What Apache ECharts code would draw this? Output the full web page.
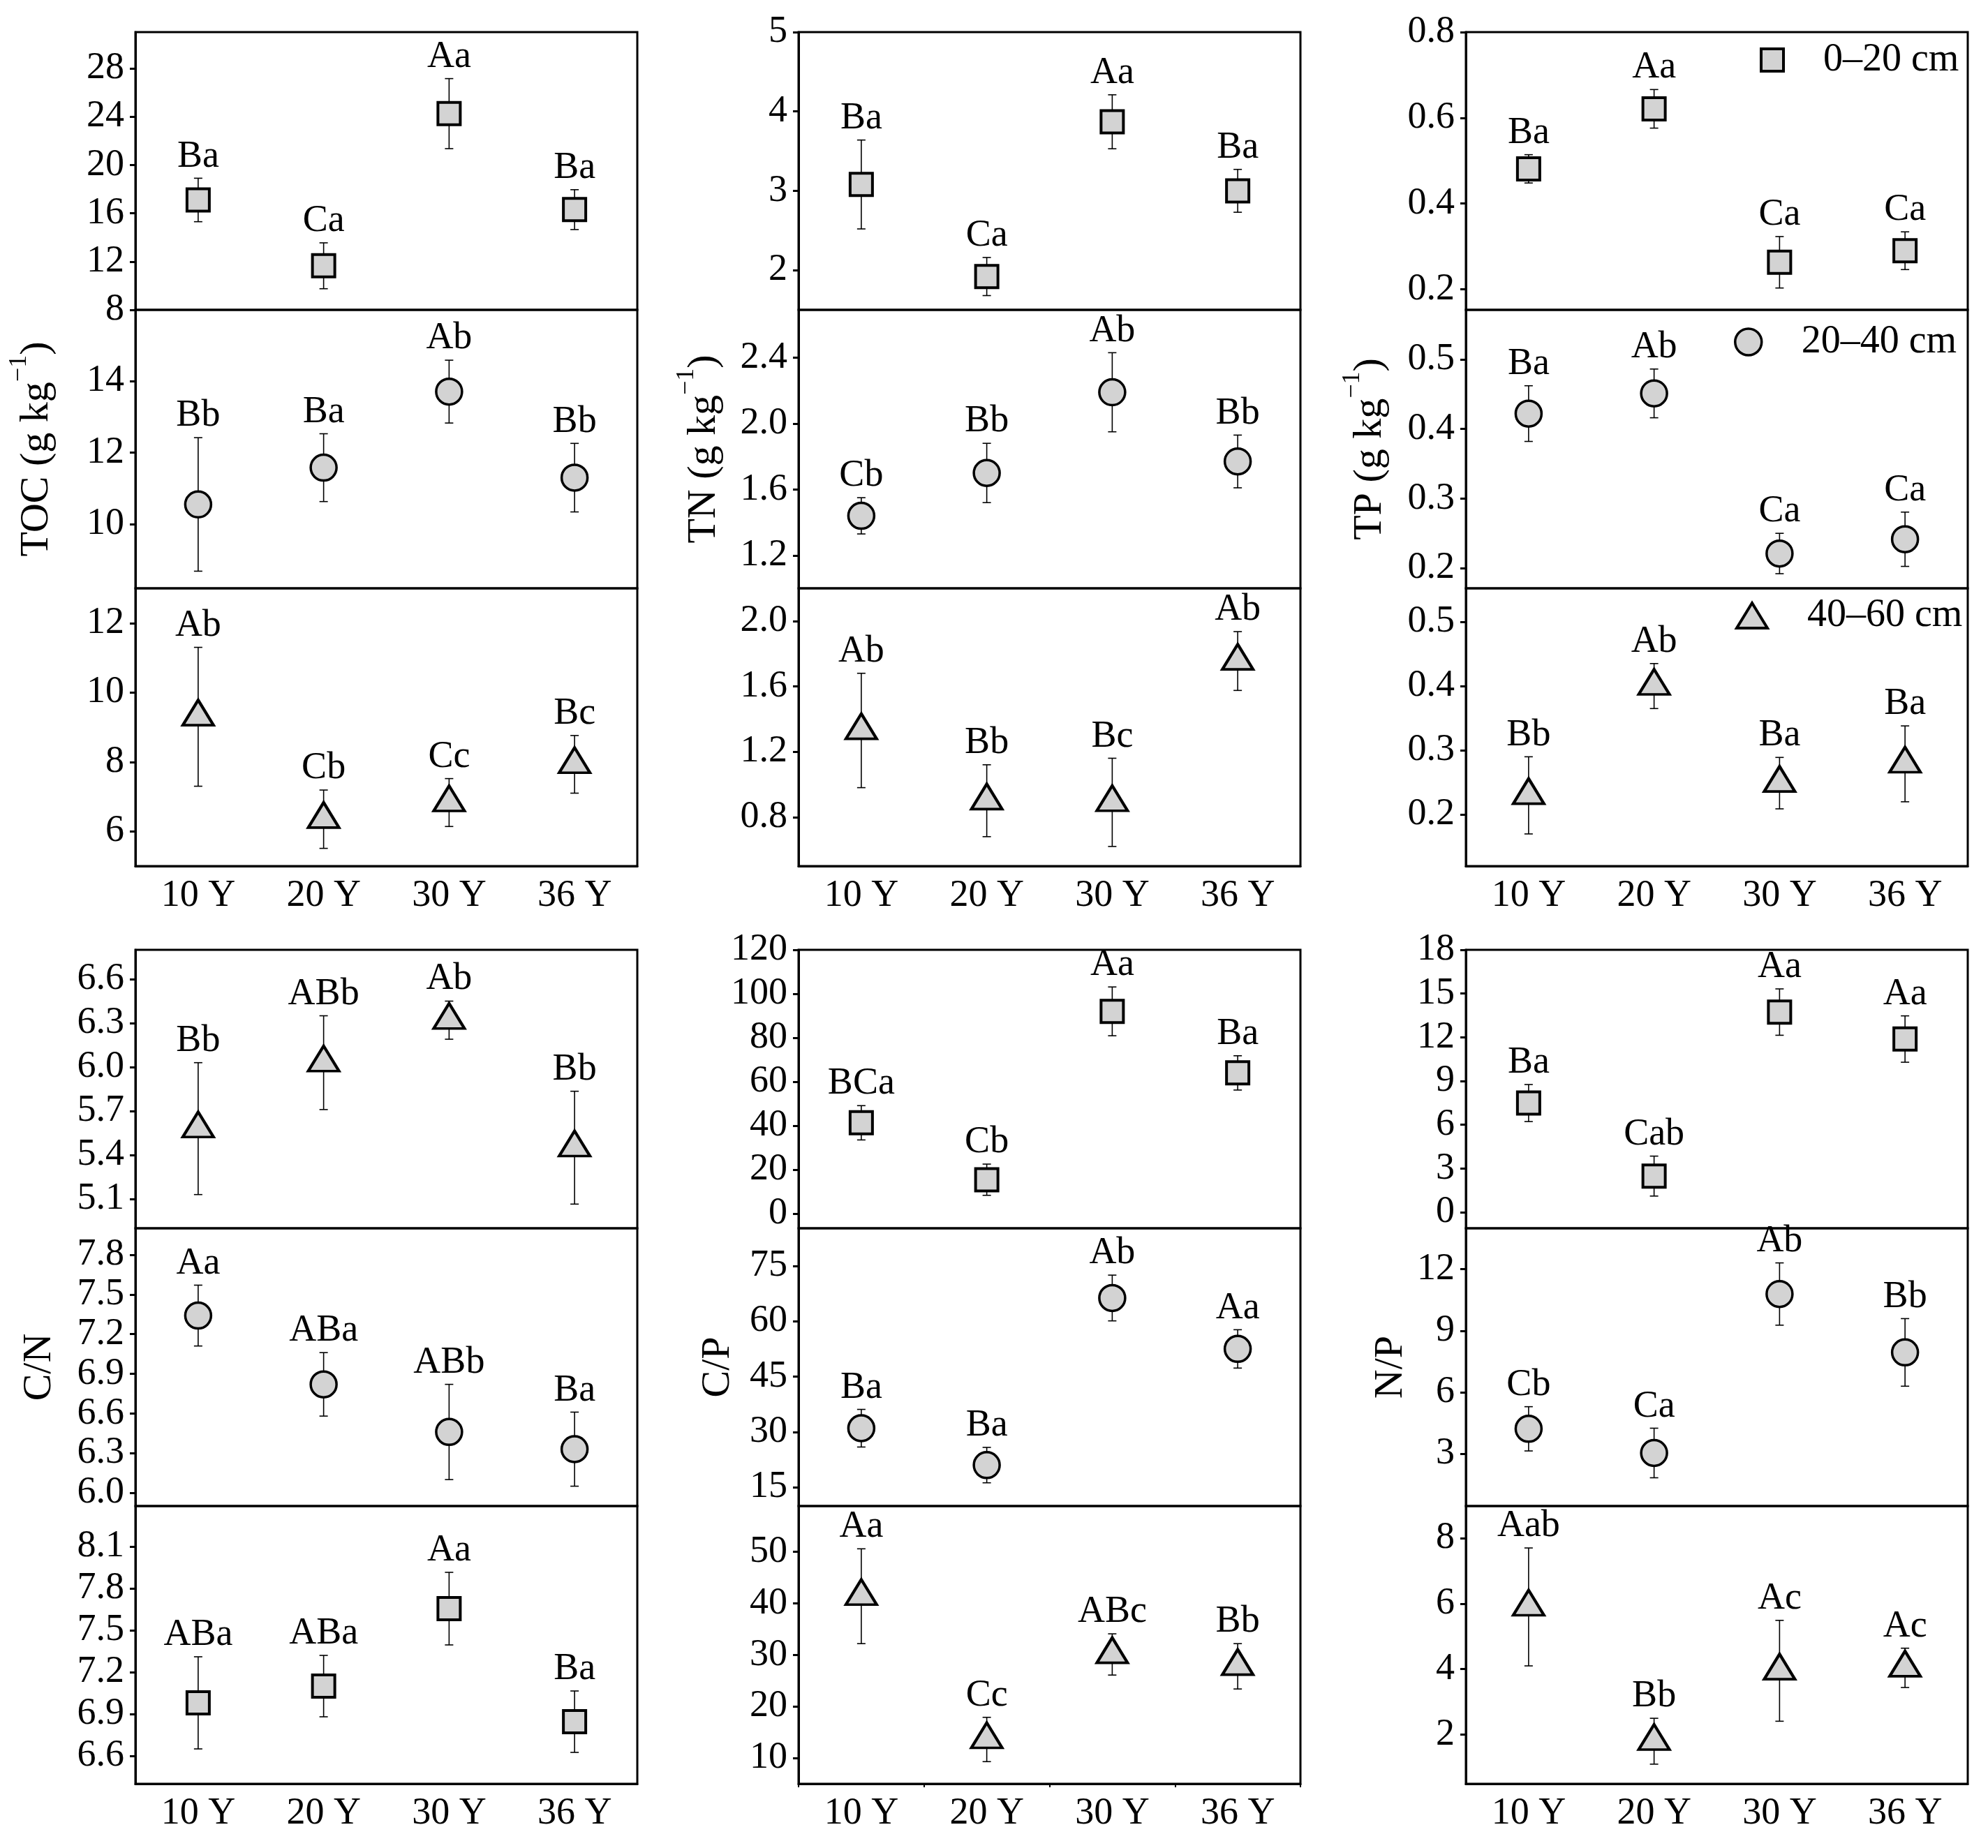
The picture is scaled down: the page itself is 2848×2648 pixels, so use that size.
<!DOCTYPE html>
<html>
<head>
<meta charset="utf-8">
<title>Soil nutrients by stand age</title>
<script src="https://cdn.jsdelivr.net/npm/echarts@6/dist/echarts.min.js"></script>
<style>
  html, body { margin: 0; padding: 0; background: #fff; }
  #chart { width: 2848px; height: 2648px; }
</style>
</head>
<body>
<div id="chart"></div>
<script>
// categories
const years = ['10 Y', '20 Y', '30 Y', '36 Y'];

// TOC (g kg-1)
const toc1 = [17.1, 11.65, 24.25, 16.3], tocErr1 = [1.8, 1.9, 2.9, 1.65], tocSig1 = ['Ba', 'Ca', 'Aa', 'Ba'];
const toc2 = [10.55, 11.58, 13.71, 11.3], tocErr2 = [1.87, 0.95, 0.88, 0.96], tocSig2 = ['Bb', 'Ba', 'Ab', 'Bb'];
const toc3 = [9.3, 6.35, 6.83, 7.93], tocErr3 = [2.0, 0.84, 0.69, 0.83], tocSig3 = ['Ab', 'Cb', 'Cc', 'Bc'];
const tocTicks1 = [8, 12, 16, 20, 24, 28], tocTicks2 = [10, 12, 14], tocTicks3 = [6, 8, 10, 12];

// TN (g kg-1)
const tn1 = [3.08, 1.92, 3.87, 3.0], tnErr1 = [0.56, 0.24, 0.34, 0.27], tnSig1 = ['Ba', 'Ca', 'Aa', 'Ba'];
const tn2 = [1.44, 1.70, 2.19, 1.77], tnErr2 = [0.11, 0.18, 0.24, 0.16], tnSig2 = ['Cb', 'Bb', 'Ab', 'Bb'];
const tn3 = [1.33, 0.90, 0.89, 1.755], tnErr3 = [0.35, 0.22, 0.27, 0.18], tnSig3 = ['Ab', 'Bb', 'Bc', 'Ab'];
const tnTicks1 = [2, 3, 4, 5], tnTicks2 = [1.2, 1.6, 2.0, 2.4], tnTicks3 = [0.8, 1.2, 1.6, 2.0];

// TP (g kg-1)
const tp1 = [0.481, 0.621, 0.263, 0.29], tpErr1 = [0.033, 0.045, 0.06, 0.044], tpSig1 = ['Ba', 'Aa', 'Ca', 'Ca'];
const tp2 = [0.422, 0.451, 0.221, 0.2415], tpErr2 = [0.04, 0.035, 0.029, 0.039], tpSig2 = ['Ba', 'Ab', 'Ca', 'Ca'];
const tp3 = [0.23, 0.40, 0.249, 0.279], tpErr3 = [0.06, 0.035, 0.04, 0.059], tpSig3 = ['Bb', 'Ab', 'Ba', 'Ba'];
const tpTicks1 = [0.2, 0.4, 0.6, 0.8], tpTicks2 = [0.2, 0.3, 0.4, 0.5], tpTicks3 = [0.2, 0.3, 0.4, 0.5];

// C/N
const cn1 = [5.58, 6.03, 6.32, 5.45], cnErr1 = [0.45, 0.32, 0.13, 0.385], cnSig1 = ['Bb', 'ABb', 'Ab', 'Bb'];
const cn2 = [7.34, 6.82, 6.46, 6.33], cnErr2 = [0.23, 0.24, 0.36, 0.28], cnSig2 = ['Aa', 'ABa', 'ABb', 'Ba'];
const cn3 = [6.98, 7.10, 7.655, 6.845], cnErr3 = [0.33, 0.22, 0.26, 0.22], cnSig3 = ['ABa', 'ABa', 'Aa', 'Ba'];
const cnTicks1 = [5.1, 5.4, 5.7, 6.0, 6.3, 6.6], cnTicks2 = [6.0, 6.3, 6.6, 6.9, 7.2, 7.5, 7.8], cnTicks3 = [6.6, 6.9, 7.2, 7.5, 7.8, 8.1];

// C/P
const cp1 = [41.3, 15.4, 92.0, 64.0], cpErr1 = [7.8, 7.1, 11.1, 7.8], cpSig1 = ['BCa', 'Cb', 'Aa', 'Ba'];
const cp2 = [31.0, 21.0, 66.3, 52.5], cpErr2 = [5.1, 4.8, 6.2, 5.2], cpSig2 = ['Ba', 'Ba', 'Ab', 'Aa'];
const cp3 = [41.4, 13.6, 30.1, 27.8], cpErr3 = [9.2, 4.3, 4.0, 4.4], cpSig3 = ['Aa', 'Cc', 'ABc', 'Bb'];
const cpTicks1 = [0, 20, 40, 60, 80, 100, 120], cpTicks2 = [15, 30, 45, 60, 75], cpTicks3 = [10, 20, 30, 40, 50];

// N/P
const np1 = [7.49, 2.48, 13.73, 11.88], npErr1 = [1.27, 1.37, 1.59, 1.59], npSig1 = ['Ba', 'Cab', 'Aa', 'Aa'];
const np2 = [4.21, 3.03, 10.79, 7.94], npErr2 = [1.08, 1.21, 1.52, 1.65], npSig2 = ['Cb', 'Ca', 'Ab', 'Bb'];
const np3 = [5.9, 1.8, 3.95, 4.04], npErr3 = [1.8, 0.7, 1.54, 0.6], npSig3 = ['Aab', 'Bb', 'Ac', 'Ac'];
const npTicks1 = [0, 3, 6, 9, 12, 15, 18], npTicks2 = [3, 6, 9, 12], npTicks3 = [2, 4, 6, 8];

const depths = ['0–20 cm', '20–40 cm', '40–60 cm'];

// panel setup: col, row, sub (0 top .. 2 bottom)
const panels = [
    {col: 0, row: 0, sub: 0, v: toc1, e: tocErr1, s: tocSig1, min: 8, max: 31, ticks: tocTicks1, sym: 'square', dec: 0},
    {col: 0, row: 0, sub: 1, v: toc2, e: tocErr2, s: tocSig2, min: 8.2, max: 16, ticks: tocTicks2, sym: 'circle', dec: 0},
    {col: 0, row: 0, sub: 2, v: toc3, e: tocErr3, s: tocSig3, min: 5, max: 13, ticks: tocTicks3, sym: 'triangle', dec: 0},
    {col: 1, row: 0, sub: 0, v: tn1, e: tnErr1, s: tnSig1, min: 1.5, max: 5, ticks: tnTicks1, sym: 'square', dec: 0},
    {col: 1, row: 0, sub: 1, v: tn2, e: tnErr2, s: tnSig2, min: 1.0, max: 2.69, ticks: tnTicks2, sym: 'circle', dec: 1},
    {col: 1, row: 0, sub: 2, v: tn3, e: tnErr3, s: tnSig3, min: 0.5, max: 2.2, ticks: tnTicks3, sym: 'triangle', dec: 1},
    {col: 2, row: 0, sub: 0, v: tp1, e: tpErr1, s: tpSig1, min: 0.152, max: 0.8, ticks: tpTicks1, sym: 'square', dec: 1, depth: 0},
    {col: 2, row: 0, sub: 1, v: tp2, e: tpErr2, s: tpSig2, min: 0.171, max: 0.571, ticks: tpTicks2, sym: 'circle', dec: 1, depth: 1},
    {col: 2, row: 0, sub: 2, v: tp3, e: tpErr3, s: tpSig3, min: 0.12, max: 0.552, ticks: tpTicks3, sym: 'triangle', dec: 1, depth: 2},
    {col: 0, row: 1, sub: 0, v: cn1, e: cnErr1, s: cnSig1, min: 4.9, max: 6.8, ticks: cnTicks1, sym: 'triangle', dec: 1},
    {col: 0, row: 1, sub: 1, v: cn2, e: cnErr2, s: cnSig2, min: 5.9, max: 8.0, ticks: cnTicks2, sym: 'circle', dec: 1},
    {col: 0, row: 1, sub: 2, v: cn3, e: cnErr3, s: cnSig3, min: 6.4, max: 8.39, ticks: cnTicks3, sym: 'square', dec: 1},
    {col: 1, row: 1, sub: 0, v: cp1, e: cpErr1, s: cpSig1, min: -6.7, max: 120, ticks: cpTicks1, sym: 'square', dec: 0},
    {col: 1, row: 1, sub: 1, v: cp2, e: cpErr2, s: cpSig2, min: 9.9, max: 85.2, ticks: cpTicks2, sym: 'circle', dec: 0},
    {col: 1, row: 1, sub: 2, v: cp3, e: cpErr3, s: cpSig3, min: 5, max: 58.9, ticks: cpTicks3, sym: 'triangle', dec: 0, minorX: true},
    {col: 2, row: 1, sub: 0, v: np1, e: npErr1, s: npSig1, min: -1.1, max: 18, ticks: npTicks1, sym: 'square', dec: 0},
    {col: 2, row: 1, sub: 1, v: np2, e: npErr2, s: npSig2, min: 0.44, max: 14.0, ticks: npTicks2, sym: 'circle', dec: 0},
    {col: 2, row: 1, sub: 2, v: np3, e: npErr3, s: npSig3, min: 0.5, max: 8.98, ticks: npTicks3, sym: 'triangle', dec: 0}
]

// y axis titles, one per column block (shown on the middle sub plot)
const titles = [
    ['{b|TOC (g kg}{sup|−1}{b|)}', '{b|TN (g kg}{sup|−1}{b|)}', '{b|TP (g kg}{sup|−1}{b|)}'],
    ['{b|C/N}', '{b|C/P}', '{b|N/P}']
]
const titleGap = [[112, 106, 108], [108, 86, 78]]

const FONT = 'Liberation Serif'
const colLeft = [194, 1144, 2100]
const colWidth = 719
const rowEdges = [[46, 444, 843, 1241], [1361, 1760, 2158, 2556]]

const SYM = {
    square: {symbol: 'rect', size: 32, offset: [0, 0], half: 18, border: 4},
    circle: {symbol: 'circle', size: 37, offset: [0, 0], half: 20, border: 3.5},
    triangle: {symbol: 'triangle', size: [44, 36], offset: [0, -6], half: 28, border: 4}
}
const black = '#000'
const fill = '#d3d3d3'

let grids = [], xAxes = [], yAxes = [], series = []

panels.forEach((p, k) => {
    const top = rowEdges[p.row][p.sub]
    const h = rowEdges[p.row][p.sub + 1] - top
    const isBottom = p.sub === 2
    grids.push({
        left: colLeft[p.col], top: top, width: colWidth, height: h,
        show: true, borderColor: black, borderWidth: 3, backgroundColor: 'transparent'
    })
    xAxes.push({
        gridIndex: k,
        type: 'category',
        data: years,
        show: isBottom,
        axisLine: {lineStyle: {color: black, width: 3}},
        axisTick: {alignWithLabel: true, length: 8, lineStyle: {color: black, width: 3}},
        axisLabel: {fontSize: 54, fontFamily: FONT, color: black, margin: 16}
    })
    const yAxis = {
        gridIndex: k,
        type: 'value',
        min: p.min,
        max: p.max,
        splitLine: {show: false},
        axisLine: {show: true, lineStyle: {color: black, width: 3}},
        axisTick: {show: true, customValues: p.ticks, length: 8, lineStyle: {color: black, width: 3}},
        axisLabel: {
            customValues: p.ticks,
            formatter: (val) => Number(val).toFixed(p.dec),
            fontSize: 54, fontFamily: FONT, color: black, margin: 16
        }
    }
    if (p.sub === 1) {
        yAxis.name = titles[p.row][p.col]
        yAxis.nameLocation = 'middle'
        yAxis.nameRotate = 90
        yAxis.nameGap = titleGap[p.row][p.col]
        yAxis.nameTextStyle = {
            fontFamily: FONT, color: black, fontSize: 58,
            rich: {
                b: {fontFamily: FONT, fontSize: 58, lineHeight: 72, verticalAlign: 'bottom', color: black},
                sup: {fontFamily: FONT, fontSize: 36, lineHeight: 36, verticalAlign: 'top', color: black}
            }
        }
    }
    yAxes.push(yAxis)

    const sym = SYM[p.sym]
    // error bars and letters
    series.push({
        type: 'custom',
        xAxisIndex: k,
        yAxisIndex: k,
        silent: true,
        z: 2,
        data: p.v.map((v, i) => [i, v, p.e[i]]),
        renderItem: (params, api) => {
            const i = api.value(0), v = api.value(1), e = api.value(2)
            const hi = api.coord([i, v + e])
            const lo = api.coord([i, v - e])
            const c = api.coord([i, v])
            const cap = 6
            const labelY = Math.min(hi[1], c[1] - sym.half) - 4
            return {
                type: 'group',
                children: [
                    {type: 'line', shape: {x1: c[0], y1: hi[1], x2: c[0], y2: lo[1]}, style: {stroke: black, lineWidth: 1.6}},
                    {type: 'line', shape: {x1: c[0] - cap, y1: hi[1], x2: c[0] + cap, y2: hi[1]}, style: {stroke: black, lineWidth: 1.6}},
                    {type: 'line', shape: {x1: c[0] - cap, y1: lo[1], x2: c[0] + cap, y2: lo[1]}, style: {stroke: black, lineWidth: 1.6}},
                    {type: 'text', x: c[0], y: labelY, style: {
                        text: p.s[i], fontSize: 54, fontFamily: FONT, fill: black,
                        align: 'center', verticalAlign: 'bottom'
                    }}
                ]
            }
        }
    })
    // markers
    series.push({
        type: 'scatter',
        name: p.depth !== undefined ? depths[p.depth] : 'panel' + k,
        xAxisIndex: k,
        yAxisIndex: k,
        z: 3,
        silent: true,
        symbol: sym.symbol,
        symbolSize: sym.size,
        symbolOffset: sym.offset,
        itemStyle: {color: fill, borderColor: black, borderWidth: sym.border, opacity: 1},
        data: p.v.map((v, i) => [i, v])
    })
})

// extra boundary ticks on the C/P bottom axis
panels.forEach((p, k) => {
    if (!p.minorX) return
    xAxes.push({
        gridIndex: k,
        type: 'category',
        data: years,
        position: 'bottom',
        axisLine: {show: false},
        axisTick: {show: true, alignWithLabel: false, length: 5, lineStyle: {color: black, width: 2}},
        axisLabel: {show: false}
    })
})

// depth legend inside the TP column
const legendBase = {
    orient: 'horizontal',
    selectedMode: false,
    itemWidth: 32,
    itemHeight: 32,
    padding: 0,
    textStyle: {fontSize: 56, fontFamily: FONT, color: black, padding: [0, 0, 0, 52]}
}
const legends = [
    Object.assign({}, legendBase, {left: 2521, top: 58,
        data: [{name: depths[0], icon: 'rect', itemStyle: {color: fill, borderColor: black, borderWidth: 4}}]}),
    Object.assign({}, legendBase, {left: 2484, top: 462, itemWidth: 38, itemHeight: 38,
        data: [{name: depths[1], icon: 'circle', itemStyle: {color: fill, borderColor: black, borderWidth: 3.5}}]}),
    Object.assign({}, legendBase, {left: 2486, top: 854, itemWidth: 44, itemHeight: 36,
        data: [{name: depths[2], icon: 'triangle', itemStyle: {color: fill, borderColor: black, borderWidth: 4}}]})
]

const chart = echarts.init(document.getElementById('chart'))
chart.setOption({
    backgroundColor: '#fff',
    animation: false,
    legend: legends,
    grid: grids,
    xAxis: xAxes,
    yAxis: yAxes,
    series: series
})
window.addEventListener('resize', () => {
    chart.resize()
})
</script>
</body>
</html>
